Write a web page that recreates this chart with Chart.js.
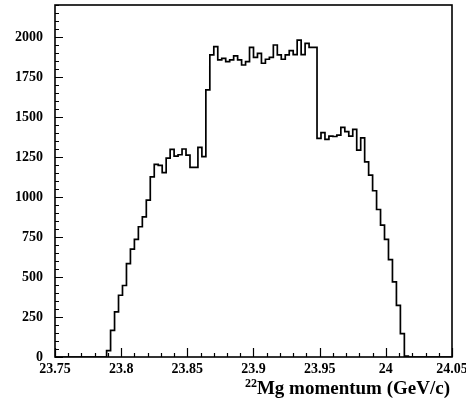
<!DOCTYPE html>
<html>
<head>
<meta charset="utf-8">
<title>22Mg momentum</title>
<script src="https://cdn.jsdelivr.net/npm/chart.js@4.4.1/dist/chart.umd.min.js"></script>
<style>
  html, body { margin: 0; padding: 0; background: #fff; }
  canvas { display: block; }
</style>
</head>
<body>
<canvas id="chart" width="466" height="402"></canvas>
<script>
'use strict';

// histogram: 100 bins from 23.75 to 24.05 GeV/c
const xMin = 23.75;
const xMax = 24.05;
const binWidth = 0.003;
const counts = [
  0, 0, 0, 0, 0, 0, 0, 0, 0, 0, 0, 0, 0,
  40, 167, 282, 386, 447, 584, 674, 735, 814, 876,
  981, 1126, 1204, 1198, 1152, 1243, 1298, 1256, 1264, 1300,
  1262, 1185, 1185, 1310, 1252, 1669, 1888, 1940, 1857, 1867,
  1846, 1857, 1882, 1857, 1825, 1846, 1935, 1873, 1898, 1836,
  1861, 1873, 1950, 1888, 1861, 1888, 1915, 1890, 1980, 1890,
  1960, 1935, 1935, 1367, 1402, 1360, 1381, 1378, 1387, 1435,
  1408, 1381, 1423, 1293, 1370, 1220, 1137, 1039, 922, 824,
  735, 609, 469, 323, 146, 5,
  0, 0, 0, 0, 0, 0, 0, 0, 0, 0, 0
];

const xTickLabels = ['23.75', '23.8', '23.85', '23.9', '23.95', '24', '24.05'];
const yTickLabels = ['0', '250', '500', '750', '1000', '1250', '1500', '1750', '2000'];
const yMax = 2200;
const titleSup = '22';
const titleText = 'Mg momentum (GeV/c)';

const serif = '"Liberation Serif", "Times New Roman", serif';

function binPoints() {
  let points = [];
  counts.forEach((count, i) => {
    points.push({x: xMin + i * binWidth, y: count});
  });
  points.push({x: xMax, y: counts[counts.length - 1]});
  return points;
}

// ROOT style frame, inward ticks and axis title
const rootFrame = {
  id: 'rootFrame',
  afterDraw(chart) {
    const ctx = chart.ctx;
    const area = chart.chartArea;
    const xs = chart.scales.x;
    const ys = chart.scales.y;
    ctx.save();
    ctx.strokeStyle = '#000';
    ctx.lineWidth = 1.2;
    ctx.beginPath();
    for (let v = 0; v <= yMax + 0.001; v += 50) {
      const y = Math.round(ys.getPixelForValue(v)) + 0.5;
      const len = v % 250 === 0 ? 8 : 4;
      ctx.moveTo(area.left, y);
      ctx.lineTo(area.left + len, y);
    }
    for (let i = 0; i <= 30; i++) {
      const x = Math.round(xs.getPixelForValue(xMin + i * 0.01)) + 0.5;
      const len = i % 5 === 0 ? 9 : 4;
      ctx.moveTo(x, area.bottom);
      ctx.lineTo(x, area.bottom - len);
    }
    ctx.stroke();

    ctx.lineWidth = 1.6;
    ctx.strokeRect(area.left, area.top, area.right - area.left, area.bottom - area.top);

    ctx.fillStyle = '#000';
    ctx.textBaseline = 'alphabetic';
    ctx.textAlign = 'left';
    ctx.font = 'bold 19px ' + serif;
    const mainWidth = ctx.measureText(titleText).width;
    const mainX = 450 - mainWidth;
    ctx.fillText(titleText, mainX, 394);
    ctx.font = 'bold 12px ' + serif;
    const supWidth = ctx.measureText(titleSup).width;
    ctx.fillText(titleSup, mainX - supWidth, 387);
    ctx.restore();
  }
};

const canvasEl = document.getElementById('chart');

new Chart(canvasEl, {
  type: 'line',
  data: {
    datasets: [{
      data: binPoints(),
      stepped: 'before',
      borderColor: '#000',
      borderWidth: 1.7,
      pointRadius: 0,
      fill: false
    }]
  },
  options: {
    responsive: false,
    animation: false,
    devicePixelRatio: 1,
    layout: {padding: {top: 5, right: 14, left: 0, bottom: 0}},
    plugins: {legend: {display: false}, tooltip: {enabled: false}},
    scales: {
      x: {
        type: 'linear',
        min: xMin,
        max: xMax,
        grid: {display: false, drawTicks: false},
        border: {display: false},
        afterBuildTicks(scale) {
          scale.ticks = xTickLabels.map(label => ({value: parseFloat(label)}));
        },
        afterFit(scale) {
          scale.height = 45;
          scale.paddingLeft = 0;
          scale.paddingRight = 0;
        },
        ticks: {
          color: '#000',
          padding: 4,
          maxRotation: 0,
          autoSkip: false,
          font: {family: serif, size: 14, weight: 'bold'},
          callback: function(value, index) {
            return xTickLabels[index];
          }
        }
      },
      y: {
        min: 0,
        max: yMax,
        grid: {display: false, drawTicks: false},
        border: {display: false},
        afterBuildTicks(scale) {
          scale.ticks = yTickLabels.map(label => ({value: Number(label)}));
        },
        afterFit(scale) {
          scale.width = 55;
          scale.paddingTop = 0;
          scale.paddingBottom = 0;
        },
        ticks: {
          color: '#000',
          padding: 12,
          autoSkip: false,
          font: {family: serif, size: 14, weight: 'bold'},
          callback: function(value, index) {
            return yTickLabels[index];
          }
        }
      }
    }
  },
  plugins: [rootFrame]
});
</script>
</body>
</html>
